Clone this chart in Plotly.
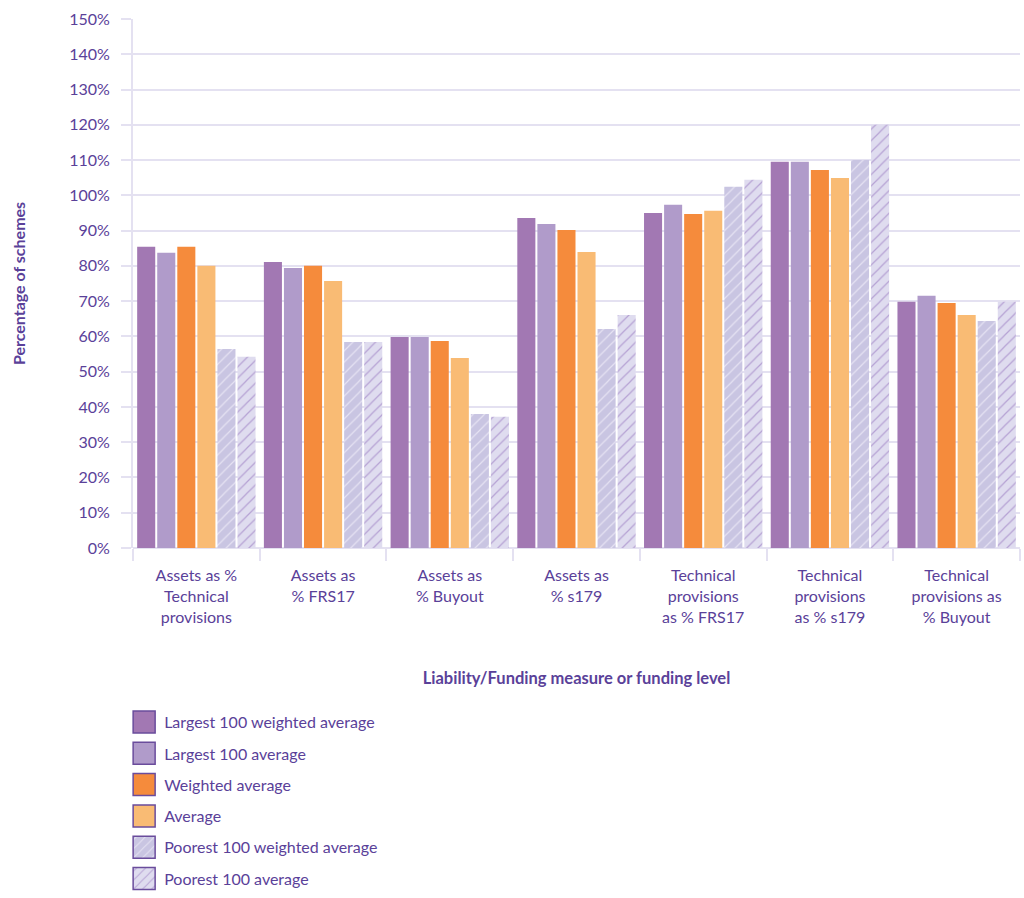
import plotly.graph_objects as go

categories = [
    "Assets as %<br>Technical<br>provisions",
    "Assets as<br>% FRS17",
    "Assets as<br>% Buyout",
    "Assets as<br>% s179",
    "Technical<br>provisions<br>as % FRS17",
    "Technical<br>provisions<br>as % s179",
    "Technical<br>provisions as<br>% Buyout",
]
series_names = [
    "Largest 100 weighted average",
    "Largest 100 average",
    "Weighted average",
    "Average",
    "Poorest 100 weighted average",
    "Poorest 100 average",
]
largest100_weighted = [85.4, 81.1, 59.8, 93.6, 95.0, 109.5, 69.8]
largest100_avg = [83.7, 79.4, 59.8, 91.9, 97.3, 109.5, 71.5]
weighted_avg = [85.4, 80.0, 58.7, 90.2, 94.7, 107.2, 69.5]
average = [80.0, 75.7, 53.9, 83.9, 95.6, 104.9, 66.1]
poorest100_weighted = [56.4, 58.4, 38.0, 62.1, 102.4, 110.0, 64.4]
poorest100_avg = [54.2, 58.4, 37.2, 66.1, 104.4, 120.0, 69.8]
y_ticks = list(range(0, 151, 10))
y_ticktext = [f"{v}%" for v in y_ticks]

series_values = [largest100_weighted, largest100_avg, weighted_avg, average,
                 poorest100_weighted, poorest100_avg]
colors = ["#a278b3", "#b09bca", "#f58b3c", "#f9bb74", "#c9c5e2", "#dfdcef"]
patterns = [None, None, None, None,
            dict(shape="/", bgcolor="#c9c5e2", fgcolor="#e6e3f3", size=8, solidity=0.15, fillmode="replace"),
            dict(shape="/", bgcolor="#dfdcef", fgcolor="#b6a2d4", size=8, solidity=0.15, fillmode="replace")]

TXT = "#5a4199"
GRID = "#e4e1f1"
FONT = "Lato, 'Open Sans', sans-serif"

fig = go.Figure()
for i, (name, vals) in enumerate(zip(series_names, series_values)):
    marker = dict(color=colors[i], line=dict(width=0))
    if patterns[i]:
        marker["pattern"] = patterns[i]
    fig.add_trace(go.Bar(x=categories, y=vals, name=name, marker=marker,
                         legendgroup=f"g{i}"))

fig.update_layout(
    width=1024, height=898,
    margin=dict(l=133, r=4, t=19, b=350, autoexpand=False),
    plot_bgcolor="white", paper_bgcolor="white",
    barmode="group", bargap=0.05, bargroupgap=0.1,
    font=dict(family=FONT, color=TXT, size=16),
    showlegend=True,
    legend=dict(x=-0.010, y=-0.297, xanchor="left", yanchor="top",
                orientation="v", tracegroupgap=7.5,
                font=dict(family=FONT, size=16, color=TXT),
                bgcolor="rgba(0,0,0,0)"),
)
fig.update_yaxes(
    range=[0, 150], tickvals=y_ticks, ticktext=y_ticktext,
    showgrid=True, gridcolor=GRID, gridwidth=2,
    zeroline=True, zerolinecolor=GRID, zerolinewidth=2,
    showline=True, linecolor=GRID, linewidth=2,
    ticks="outside", ticklen=10, tickcolor=GRID, tickwidth=2,
    ticklabelstandoff=8,
    tickfont=dict(size=16, color=TXT, family=FONT),
    automargin=False,
    title=dict(text="<b>Percentage of schemes</b>", standoff=40,
               font=dict(size=16, color=TXT, family=FONT)),
)
fig.update_xaxes(
    tickson="boundaries", ticks="outside", ticklen=12, tickcolor=GRID, tickwidth=2,
    showline=False, showgrid=False, ticklabelstandoff=16,
    tickfont=dict(size=16, color=TXT, family=FONT),
    automargin=False,
    title=dict(text="<b>Liability/Funding measure or funding level</b>", standoff=47,
               font=dict(size=16.5, color=TXT, family=FONT)),
)

post = """
(function(){
  document.documentElement.style.margin = '0';
  document.body.style.margin = '0';
  document.body.style.overflow = 'hidden';
  var gd = document.getElementById('{plot_id}');
  function fix(){
    var pts = gd.querySelectorAll('.legend .legendpoints path');
    pts.forEach(function(p){
      p.setAttribute('d','M11,11H-11V-11H11Z');
      p.style.stroke = '#6a4c9c';
      p.style.strokeWidth = '1.5px';
      p.style.strokeOpacity = '1';
    });
  }
  fix();
  if (gd.on) gd.on('plotly_afterplot', fix);
  setTimeout(fix, 50);
})();
"""
fig.write_html("out.html", post_script=post, config={"displayModeBar": False})
